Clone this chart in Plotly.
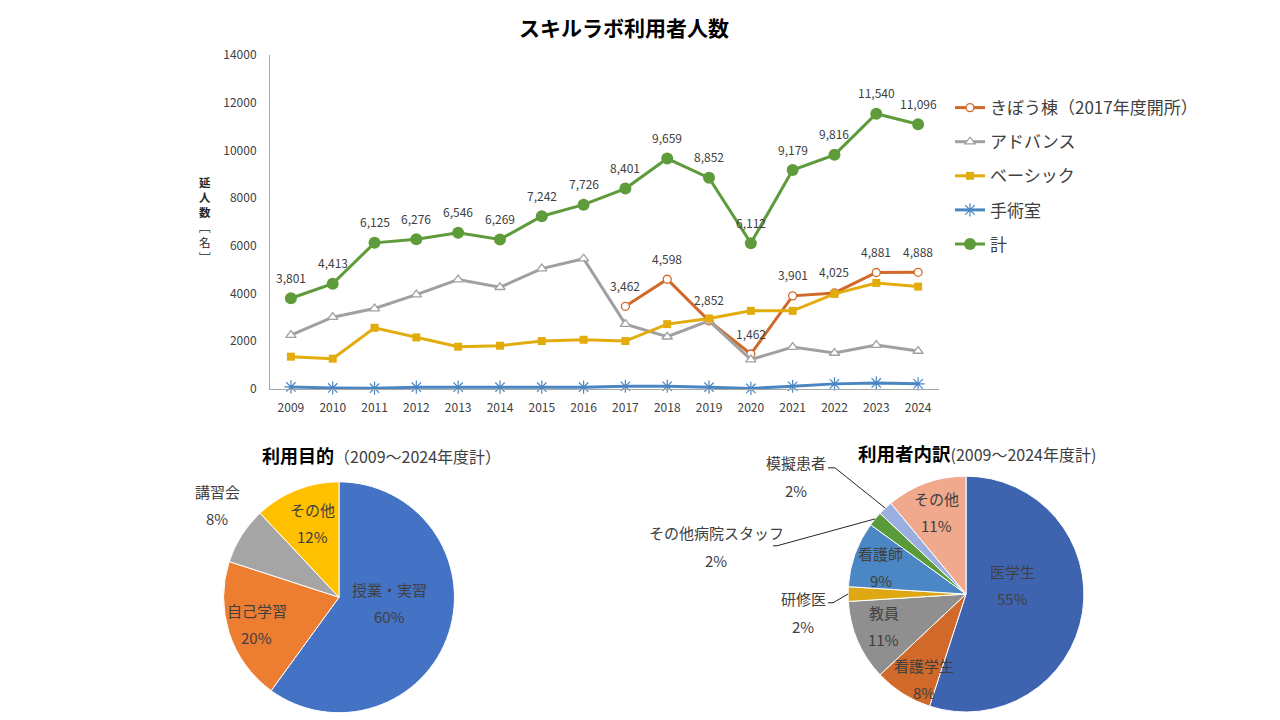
import math
import plotly.graph_objects as go

# ---------------- data ----------------
years = list(range(2009, 2025))
kibou = [None] * 8 + [3462, 4598, 2852, 1462, 3901, 4025, 4881, 4888]
advance = [2256, 3008, 3370, 3955, 4582, 4262, 5042, 5460, 2716, 2187, 2855, 1226, 1755, 1504, 1838, 1588]
basic = [1351, 1267, 2563, 2159, 1769, 1811, 2006, 2061, 2006, 2716, 2953, 3273, 3273, 3983, 4443, 4290]
surgery = [84, 40, 30, 70, 70, 70, 70, 70, 110, 110, 70, 20, 110, 210, 250, 210]
total = [3801, 4413, 6125, 6276, 6546, 6269, 7242, 7726, 8401, 9659, 8852, 6112, 9179, 9816, 11540, 11096]

series_names = ["きぼう棟（2017年度開所）", "アドバンス", "ベーシック", "手術室", "計"]

purpose_labels = ["授業・実習", "自己学習", "講習会", "その他"]
purpose_pct = [60, 20, 8, 12]

user_labels = ["医学生", "看護学生", "教員", "研修医", "看護師", "その他病院スタッフ", "模擬患者", "その他"]
user_pct = [55, 8, 11, 2, 9, 2, 2, 11]

# ---------------- geometry helpers ----------------
FONT = "Noto Sans CJK JP"
TXT = "#404040"
W, H = 1280, 720
# measured mapping of the rendered page: screen_y = TOP + (1 - paper_y) * H_EFF
TOP, H_EFF = 9.9, 703.4


def py(y):
    return 1 - (y - TOP) / H_EFF


def px(x, y):
    return x / W, py(y)


fig = go.Figure()

styles = [
    dict(color="#D0692A", symbol="circle", fill="white", size=8, lw=1.3, text=True),
    dict(color="#A0A0A0", symbol="triangle-up", fill="white", size=9, lw=1.3, text=False),
    dict(color="#E2AC0C", symbol="square", fill="#E2AC0C", size=8, lw=0, text=False),
    dict(color="#4A86C2", symbol="asterisk-open", fill="#4A86C2", size=11, lw=1.2, text=False),
    dict(color="#5E9B3B", symbol="circle", fill="#5E9B3B", size=12, lw=0, text=True),
]
annotations = []
shapes = []

for name, ys, st in zip(series_names, [kibou, advance, basic, surgery, total], styles):
    fig.add_trace(go.Scatter(
        x=years, y=ys, name=name, legendgroup=name, mode="lines+markers",
        line=dict(color=st["color"], width=3),
        marker=dict(symbol=st["symbol"], color=st["fill"], size=st["size"],
                    line=dict(color=st["color"], width=st["lw"])),
        cliponaxis=False, xaxis="x", yaxis="y",
    ))
    if st["text"]:
        for xv, yv in zip(years, ys):
            if yv is None:
                continue
            annotations.append(dict(x=xv, y=yv, xref="x", yref="y", text=f"{yv:,}", showarrow=False,
                                    yshift=21, font=dict(family=FONT, size=12, color=TXT)))

# ---------------- pies ----------------
def pie_geom(cx, cy, r):
    return dict(x=[(cx - r) / W, (cx + r) / W], y=[py(cy + r), py(cy - r)])

p1 = dict(cx=339, cy=597.5, r=115.5)
p2 = dict(cx=966, cy=594.3, r=118)

fig.add_trace(go.Pie(
    labels=purpose_labels, values=purpose_pct, sort=False, direction="clockwise", rotation=0,
    domain=pie_geom(p1["cx"], p1["cy"], p1["r"]),
    marker=dict(colors=["#4472C4", "#ED7D31", "#A5A5A5", "#FFC000"], line=dict(color="white", width=1)),
    textinfo="none", showlegend=False, hoverinfo="label+percent",
))
fig.add_trace(go.Pie(
    labels=user_labels, values=user_pct, sort=False, direction="clockwise", rotation=0,
    domain=pie_geom(p2["cx"], p2["cy"], p2["r"]),
    marker=dict(colors=["#3E64B0", "#D0692A", "#8F8F8F", "#DDA814", "#4A87C4", "#5A9A3A", "#9AAEE0", "#F0A98C"],
                line=dict(color="white", width=1)),
    textinfo="none", showlegend=False, hoverinfo="label+percent",
))


def add_text(x, y, text, size=15, bold=False, anchor="center", color=TXT):
    xx, yy = px(x, y)
    annotations.append(dict(x=xx, y=yy, xref="paper", yref="paper", text=f"<b>{text}</b>" if bold else text,
                            showarrow=False, xanchor=anchor, yanchor="middle",
                            font=dict(family=FONT, size=size, color=color)))


def mid_angle(vals, i):
    tot = sum(vals)
    start = sum(vals[:i]) / tot * 360
    return start + vals[i] / tot * 180


def polar(p, ang_deg, frac):
    a = math.radians(ang_deg)
    return p["cx"] + frac * p["r"] * math.sin(a), p["cy"] - frac * p["r"] * math.cos(a)


LINE_GAP = 27

# inside label placement: (angle shift from slice mid-angle in degrees, fraction of radius)
place1 = {"授業・実習": (-11, 0.44), "自己学習": (0, 0.75), "その他": (2, 0.68)}
place2 = {"医学生": (-20, 0.40), "看護学生": (-6, 0.80), "教員": (2, 0.75), "看護師": (-2, 0.76), "その他": (0, 0.74)}


def inside_labels(p, labels, vals, place):
    for i, (l, v) in enumerate(zip(labels, vals)):
        if l not in place:
            continue
        da, frac = place[l]
        x, y = polar(p, mid_angle(vals, i) + da, frac)
        add_text(x, y - LINE_GAP / 2, l)
        add_text(x, y + LINE_GAP / 2, f"{v}%")

inside_labels(p1, purpose_labels, purpose_pct, place1)
inside_labels(p2, user_labels, user_pct, place2)

# outside labels
out_pos1 = {"講習会": (217, 492)}
for l, (x, y) in out_pos1.items():
    i = purpose_labels.index(l)
    add_text(x, y, l)
    add_text(x, y + LINE_GAP, f"{purpose_pct[i]}%")

out_pos2 = {"模擬患者": (796, 463, 828, 835), "その他病院スタッフ": (716, 533, 773, 777), "研修医": (803, 599, 828, 833)}
line_y = {"模擬患者": 468, "その他病院スタッフ": 546, "研修医": 603}
for l, (x, y, lx0, lx1) in out_pos2.items():
    i = user_labels.index(l)
    add_text(x, y, l)
    add_text(x, y + 28, f"{user_pct[i]}%")
    ex, ey = polar(p2, mid_angle(user_pct, i), 1.0)
    ly = line_y[l]
    pts = [px(lx0, ly), px(lx1, ly), px(ex, ey)]
    path = "M {} {} L {} {} L {} {}".format(*[c for p in pts for c in p])
    shapes.append(dict(type="path", path=path, xref="paper", yref="paper", line=dict(color="#262626", width=1)))

# titles
add_text(624, 27, "スキルラボ利用者人数", size=21, bold=True, color="#000000")
xx, yy = px(381, 455)
annotations.append(dict(x=xx, y=yy, xref="paper", yref="paper", showarrow=False, xanchor="center", yanchor="middle",
                        text="<b>利用目的</b><span style='font-size:16px;color:#404040'>（2009～2024年度計）</span>",
                        font=dict(family=FONT, size=18, color="#000000")))
xx, yy = px(977, 453)
annotations.append(dict(x=xx, y=yy, xref="paper", yref="paper", showarrow=False, xanchor="center", yanchor="middle",
                        text="<b>利用者内訳</b><span style='font-size:16px;color:#404040'>(2009～2024年度計)</span>",
                        font=dict(family=FONT, size=18.5, color="#000000")))
# y-axis title (vertical, upright characters)
xx, yy = px(205, 220)
annotations.append(dict(x=xx, y=yy, xref="paper", yref="paper", showarrow=False, xanchor="center", yanchor="middle",
                        text="<b>延<br>人<br>数</b><br>﹇<br>名<br>﹈",
                        font=dict(family=FONT, size=11.5, color="#262626")))

fig.update_layout(
    width=W, height=H, margin=dict(l=0, r=0, t=0, b=0),
    paper_bgcolor="white", plot_bgcolor="white",
    font=dict(family=FONT, color=TXT),
    xaxis=dict(domain=[270 / W, 939 / W], range=[2008.5, 2024.5], tickmode="array", tickvals=years,
               ticktext=[str(y) for y in years], showgrid=False, zeroline=False,
               showline=True, linecolor="#A6A6A6", linewidth=1, ticks="", ticklabelstandoff=8,
               tickfont=dict(family=FONT, size=12, color=TXT)),
    yaxis=dict(domain=[py(389), py(55)], range=[0, 14000], dtick=2000, tickformat="d",
               showgrid=False, zeroline=False, showline=True, linecolor="#A6A6A6", linewidth=1, ticks="",
               ticklabelstandoff=10, tickfont=dict(family=FONT, size=12, color=TXT)),
    legend=dict(x=950 / W, y=py(90), xanchor="left", yanchor="top", traceorder="grouped",
                tracegroupgap=9, font=dict(family=FONT, size=17, color=TXT), bgcolor="rgba(0,0,0,0)"),
    annotations=annotations, shapes=shapes,
)

fig.write_html("out.html")
